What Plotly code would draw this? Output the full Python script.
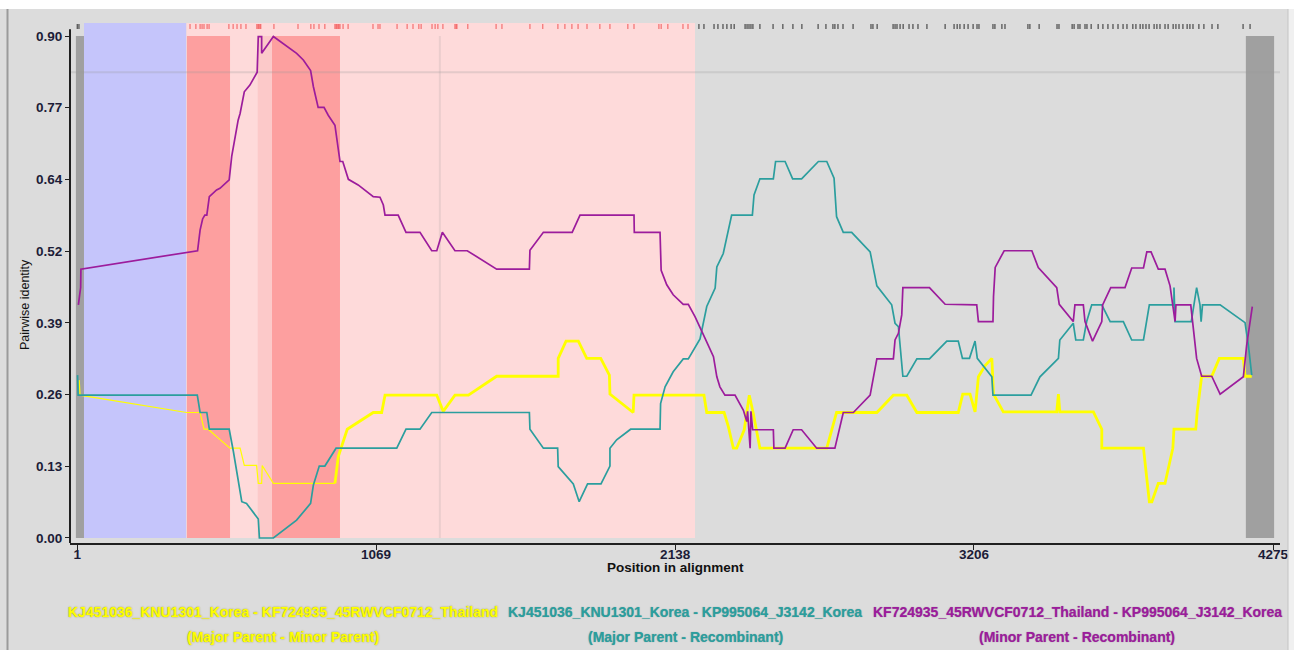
import plotly.graph_objects as go

# ---- pairwise identity profiles (alignment position, identity) ----
major_minor_pos = [8, 11, 392, 440, 454, 469, 505, 547, 583, 598, 642, 648, 660, 662, 702, 922, 934, 966,
                   1059, 1089, 1101, 1286, 1309, 1351, 1399, 1500, 1720, 1720, 1748, 1792, 1822, 1872, 1903,
                   1905, 1988, 1991, 2241, 2251, 2313, 2328, 2346, 2358, 2385, 2403, 2417, 2441, 2495, 2680,
                   2715, 2859, 2918, 2966, 3002, 3150, 3166, 3192, 3210, 3222, 3246, 3270, 3276, 3311, 3502,
                   3508, 3513, 3633, 3663, 3663, 3812, 3833, 3842, 3865, 3889, 3917, 3921, 3999, 4004, 4014,
                   4020, 4056, 4083, 4169, 4175, 4199]
major_minor_id = [0.283, 0.256, 0.225, 0.225, 0.195, 0.195, 0.179, 0.161, 0.161, 0.130, 0.130, 0.098, 0.098,
                  0.130, 0.098, 0.098, 0.146, 0.195, 0.225, 0.225, 0.256, 0.256, 0.227, 0.256, 0.256, 0.290,
                  0.290, 0.322, 0.353, 0.353, 0.322, 0.322, 0.292, 0.258, 0.225, 0.256, 0.256, 0.225, 0.225,
                  0.200, 0.161, 0.161, 0.194, 0.256, 0.224, 0.161, 0.161, 0.161, 0.225, 0.225, 0.256, 0.256,
                  0.225, 0.225, 0.258, 0.258, 0.226, 0.289, 0.309, 0.322, 0.258, 0.226, 0.226, 0.258, 0.226,
                  0.226, 0.195, 0.161, 0.161, 0.065, 0.065, 0.098, 0.098, 0.161, 0.195, 0.195, 0.226, 0.274,
                  0.290, 0.290, 0.322, 0.322, 0.290, 0.290]

major_rec_pos = [2, 4, 430, 440, 464, 473, 544, 559, 589, 606, 648, 652, 702, 785, 835, 845, 866, 886, 926,
                 1143, 1176, 1226, 1268, 1617, 1619, 1667, 1718, 1720, 1774, 1795, 1825, 1873, 1905, 1905,
                 1929, 1979, 2084, 2086, 2102, 2131, 2167, 2185, 2227, 2251, 2281, 2287, 2310, 2322, 2340,
                 2414, 2420, 2441, 2489, 2497, 2531, 2558, 2590, 2650, 2680, 2706, 2715, 2739, 2769, 2835,
                 2859, 2912, 2924, 2936, 2952, 2966, 3002, 3047, 3109, 3150, 3165, 3190, 3210, 3218, 3270,
                 3274, 3410, 3442, 3508, 3513, 3561, 3570, 3597, 3609, 3627, 3663, 3693, 3740, 3770, 3812,
                 3833, 3921, 3921, 3925, 3983, 4002, 4014, 4018, 4023, 4086, 4175, 4187, 4199]
major_rec_id = [0.292, 0.256, 0.256, 0.225, 0.225, 0.195, 0.195, 0.155, 0.065, 0.062, 0.034, 0.000, 0.000,
                0.032, 0.062, 0.095, 0.129, 0.129, 0.161, 0.161, 0.195, 0.195, 0.225, 0.225, 0.195, 0.161,
                0.161, 0.128, 0.097, 0.065, 0.097, 0.097, 0.129, 0.161, 0.176, 0.195, 0.195, 0.241, 0.271,
                0.298, 0.321, 0.321, 0.357, 0.415, 0.448, 0.486, 0.510, 0.537, 0.579, 0.579, 0.615, 0.644,
                0.644, 0.675, 0.675, 0.644, 0.644, 0.675, 0.675, 0.645, 0.576, 0.548, 0.548, 0.513, 0.452,
                0.418, 0.385, 0.379, 0.290, 0.290, 0.321, 0.321, 0.353, 0.353, 0.322, 0.322, 0.353, 0.322,
                0.289, 0.256, 0.256, 0.289, 0.322, 0.355, 0.385, 0.355, 0.355, 0.388, 0.418, 0.418, 0.388,
                0.388, 0.355, 0.355, 0.418, 0.418, 0.449, 0.388, 0.388, 0.449, 0.418, 0.388, 0.418, 0.418,
                0.386, 0.346, 0.292]

minor_rec_pos = [5, 13, 14, 392, 431, 440, 449, 457, 464, 473, 499, 511, 544, 553, 565, 576, 583, 598, 618,
                 644, 648, 660, 660, 702, 785, 809, 835, 845, 862, 883, 898, 922, 940, 950, 970, 1005, 1059,
                 1083, 1095, 1101, 1148, 1176, 1226, 1268, 1286, 1306, 1351, 1395, 1500, 1617, 1619, 1667,
                 1770, 1798, 1991, 1992, 2084, 2088, 2108, 2131, 2167, 2185, 2209, 2233, 2245, 2275, 2287,
                 2298, 2316, 2352, 2382, 2394, 2397, 2406, 2409, 2415, 2489, 2491, 2531, 2560, 2590, 2644,
                 2709, 2739, 2775, 2835, 2859, 2918, 2924, 2936, 2948, 2952, 3047, 3103, 3216, 3222, 3274,
                 3276, 3282, 3314, 3413, 3436, 3502, 3511, 3561, 3567, 3597, 3603, 3630, 3663, 3666, 3695,
                 3746, 3770, 3812, 3824, 3839, 3865, 3889, 3907, 3925, 3928, 3981, 4002, 4020, 4056, 4086,
                 4169, 4181, 4201]
minor_rec_id = [0.418, 0.449, 0.482, 0.513, 0.515, 0.552, 0.572, 0.579, 0.579, 0.612, 0.624, 0.627, 0.642,
                0.684, 0.719, 0.749, 0.761, 0.800, 0.812, 0.835, 0.899, 0.899, 0.869, 0.899, 0.869, 0.857,
                0.838, 0.809, 0.772, 0.772, 0.758, 0.740, 0.675, 0.675, 0.643, 0.633, 0.612, 0.611, 0.597,
                0.579, 0.579, 0.548, 0.548, 0.515, 0.515, 0.548, 0.515, 0.515, 0.482, 0.482, 0.516, 0.548,
                0.548, 0.579, 0.579, 0.548, 0.548, 0.480, 0.454, 0.436, 0.419, 0.419, 0.397, 0.373, 0.358,
                0.325, 0.289, 0.271, 0.256, 0.256, 0.229, 0.209, 0.227, 0.161, 0.227, 0.194, 0.194, 0.161,
                0.161, 0.194, 0.194, 0.161, 0.161, 0.225, 0.225, 0.256, 0.321, 0.321, 0.355, 0.367, 0.400,
                0.449, 0.449, 0.419, 0.418, 0.388, 0.388, 0.433, 0.485, 0.515, 0.515, 0.485, 0.449, 0.419,
                0.388, 0.418, 0.418, 0.388, 0.353, 0.388, 0.418, 0.449, 0.449, 0.484, 0.484, 0.513, 0.513,
                0.482, 0.482, 0.452, 0.388, 0.418, 0.418, 0.322, 0.290, 0.290, 0.258, 0.289, 0.346, 0.415]

# informative sites drawn in the strip above the plot
informative_sites = [1, 7, 404, 425, 440, 447, 454, 465, 472, 543, 558, 572, 586, 604, 643, 647, 650, 654, 657,
                     704, 790, 836, 847, 865, 886, 922, 926, 929, 933, 936, 940, 951, 969, 1058, 1076, 1083,
                     1144, 1180, 1201, 1222, 1230, 1269, 1280, 1290, 1308, 1351, 1355, 1358, 1397, 1498, 1519,
                     1619, 1665, 1719, 1744, 1769, 1791, 1823, 1869, 1905, 1969, 1991, 2080, 2088, 2112, 2166,
                     2184, 2223, 2241, 2277, 2291, 2309, 2323, 2338, 2349, 2388, 2395, 2402, 2409, 2416, 2441,
                     2488, 2523, 2559, 2591, 2649, 2677, 2702, 2709, 2720, 2738, 2774, 2838, 2845, 2860, 2917,
                     2924, 2931, 2942, 2953, 2974, 2988, 3006, 3038, 3103, 3135, 3146, 3156, 3171, 3185, 3203,
                     3217, 3224, 3274, 3281, 3306, 3317, 3399, 3406, 3439, 3503, 3510, 3557, 3564, 3578, 3585,
                     3603, 3610, 3625, 3650, 3667, 3685, 3703, 3721, 3739, 3753, 3774, 3785, 3800, 3810, 3821,
                     3832, 3850, 3860, 3871, 3889, 3900, 3918, 3928, 3939, 3953, 3968, 3978, 3989, 4010, 4028,
                     4057, 4078, 4168, 4193]

# region boundaries (alignment positions)
excluded_left = (-4, 25)
excluded_right = (4178, 4279)
unassigned_span = (25, 391)
recombinant_span = (391, 2209)
breakpoint_cores = [(393, 547), (696, 940)]
breakpoint_mid = (646, 696)
breakpoint_marker = 1297
threshold_identity = 0.835

# axes
x_tick_vals = [1, 1069, 2138, 3206, 4275]
y_tick_text = ["0.00", "0.13", "0.26", "0.39", "0.52", "0.64", "0.77", "0.90"]
y_max_label = 0.90
y_tick_vals = [i * y_max_label / (len(y_tick_text) - 1) for i in range(len(y_tick_text))]

series_names = ["KJ451036_KNU1301_Korea - KF724935_45RWVCF0712_Thailand",
                "KJ451036_KNU1301_Korea - KP995064_J3142_Korea",
                "KF724935_45RWVCF0712_Thailand - KP995064_J3142_Korea"]
series_roles = ["(Major Parent - Minor Parent)",
                "(Major Parent - Recombinant)",
                "(Minor Parent - Recombinant)"]

# ---- styling ----
YELLOW = "#ffff00"
TEAL = "#2b9e9e"
PURPLE = "#9c1c9c"
PANEL = "#dcdcdc"
X_RANGE = [-25, 4300]
Y_RANGE = [-0.009, 0.9233]
STRIP = (0.9125, 0.9215)
FONT = "Liberation Sans, Arial, sans-serif"

W, H = 1294, 650
ML, MR, MT, MB = 70, 14, 23, 107
PW, PH = W - ML - MR, H - MT - MB


def px_x(p):
    return (p - ML) / PW


def px_y(p):
    return (H - MB - p) / PH


fig = go.Figure()

shapes = []


def rect(x0, x1, y0, y1, color):
    shapes.append(dict(type="rect", xref="x", yref="y", x0=x0, x1=x1, y0=y0, y1=y1,
                       fillcolor=color, line=dict(width=0), layer="below"))


rect(unassigned_span[0], unassigned_span[1], 0, Y_RANGE[1], "#c5c5fb")
rect(recombinant_span[0], recombinant_span[1], 0, Y_RANGE[1], "#fedada")
for a, b in breakpoint_cores:
    rect(a, b, 0, y_max_label, "#fd9f9f")
rect(breakpoint_mid[0], breakpoint_mid[1], 0, y_max_label, "#fcc9c9")
rect(excluded_left[0], excluded_left[1], 0, y_max_label, "#a0a0a0")
rect(excluded_right[0], excluded_right[1], 0, y_max_label, "#a0a0a0")

shapes.append(dict(type="line", xref="x", yref="y", x0=X_RANGE[0], x1=X_RANGE[1], y0=threshold_identity,
                   y1=threshold_identity, line=dict(color="rgba(150,150,150,0.25)", width=2), layer="below"))
shapes.append(dict(type="line", xref="x", yref="y", x0=breakpoint_marker, x1=breakpoint_marker, y0=0,
                   y1=y_max_label, line=dict(color="rgba(150,150,150,0.18)", width=2), layer="below"))

# informative-site strip
red_x, red_y, grey_x, grey_y = [], [], [], []
for s in informative_sites:
    if recombinant_span[0] <= s <= recombinant_span[1]:
        red_x += [s, s, None]
        red_y += [STRIP[0], STRIP[1], None]
    else:
        grey_x += [s, s, None]
        grey_y += [STRIP[0], STRIP[1], None]
fig.add_trace(go.Scatter(x=red_x, y=red_y, mode="lines", line=dict(color="#f25a5a", width=1),
                         hoverinfo="skip", showlegend=False))
fig.add_trace(go.Scatter(x=grey_x, y=grey_y, mode="lines", line=dict(color="#4a4a4a", width=1.2),
                         hoverinfo="skip", showlegend=False))

# identity profiles; the parental pair is drawn thin through the breakpoint zone
split = major_minor_pos.index(922) + 1
fig.add_trace(go.Scatter(x=major_minor_pos[:split], y=major_minor_id[:split], mode="lines",
                         line=dict(color=YELLOW, width=1.2), name=series_names[0], showlegend=False))
fig.add_trace(go.Scatter(x=major_minor_pos[split - 1:], y=major_minor_id[split - 1:], mode="lines",
                         line=dict(color=YELLOW, width=2.8), name=series_names[0], showlegend=False))
fig.add_trace(go.Scatter(x=major_rec_pos, y=major_rec_id, mode="lines",
                         line=dict(color=TEAL, width=1.7), name=series_names[1], showlegend=False))
fig.add_trace(go.Scatter(x=minor_rec_pos, y=minor_rec_id, mode="lines",
                         line=dict(color=PURPLE, width=1.7), name=series_names[2], showlegend=False))

# y axis line (stops just above the top tick)
shapes.append(dict(type="line", xref="paper", yref="y", x0=0, x1=0, y0=Y_RANGE[0], y1=y_max_label + 0.012,
                   line=dict(color="#202020", width=2), layer="above"))

# panel frame
shapes.append(dict(type="rect", xref="paper", yref="paper", x0=px_x(-5), x1=px_x(W + 5),
                   y0=px_y(9), y1=px_y(-5), fillcolor="white", line=dict(width=0), layer="above"))
shapes.append(dict(type="rect", xref="paper", yref="paper", x0=px_x(1288), x1=px_x(W + 5),
                   y0=px_y(H + 5), y1=px_y(9), fillcolor="#f0f0f0", line=dict(width=0), layer="above"))
shapes.append(dict(type="line", xref="paper", yref="paper", x0=px_x(7.5), x1=px_x(7.5),
                   y0=px_y(H + 5), y1=px_y(9), line=dict(color="#9a9a9a", width=2), layer="above"))
shapes.append(dict(type="line", xref="paper", yref="paper", x0=px_x(1288), x1=px_x(1288),
                   y0=px_y(H + 5), y1=px_y(9), line=dict(color="#c4c4c4", width=1), layer="above"))

annotations = []
centres = [283, 685, 1077]
colors = [YELLOW, TEAL, PURPLE]
halos = ["0 0 1.5px #8f8f00", "0 0 1px rgba(20,90,90,0.5)", "0 0 1px rgba(90,10,90,0.5)"]
for name, role, cx, col, halo in zip(series_names, series_roles, centres, colors, halos):
    for text, row in ((name, 612), (role, 637)):
        annotations.append(dict(xref="paper", yref="paper", x=px_x(cx), y=px_y(row), text=text,
                                showarrow=False, xanchor="center", yanchor="middle",
                                font=dict(family=FONT, size=14, weight="bold", color=col, shadow=halo)))

annotations.append(dict(xref="paper", yref="paper", x=px_x(675), y=px_y(567), text="Position in alignment",
                        showarrow=False, xanchor="center", yanchor="middle",
                        font=dict(family=FONT, size=13.5, weight="bold", color="#111111")))
annotations.append(dict(xref="paper", yref="paper", x=px_x(25), y=px_y(305), text="Pairwise identity",
                        showarrow=False, xanchor="center", yanchor="middle", textangle=-90,
                        font=dict(family=FONT, size=12.5, color="#111111")))

tick_font = dict(family=FONT, size=13.5, weight="bold", color="#1c1c38")

fig.update_layout(
    width=W, height=H,
    margin=dict(l=ML, r=MR, t=MT, b=MB, pad=0, autoexpand=False),
    paper_bgcolor=PANEL, plot_bgcolor=PANEL,
    shapes=shapes, annotations=annotations, showlegend=False,
    xaxis=dict(range=X_RANGE, tickvals=x_tick_vals, ticktext=[str(v) for v in x_tick_vals],
               showgrid=False, zeroline=False, showline=True, linecolor="#202020", linewidth=2,
               ticks="outside", ticklen=5, tickcolor="#202020", tickwidth=1, tickfont=tick_font,
               ticklabelstandoff=-7, automargin=False),
    yaxis=dict(range=Y_RANGE, tickvals=y_tick_vals, ticktext=y_tick_text,
               showgrid=False, zeroline=False, showline=False, automargin=False,
               ticks="outside", ticklen=4, tickcolor="#202020", tickwidth=1, tickfont=tick_font),
)

fig.write_html("out.html")
